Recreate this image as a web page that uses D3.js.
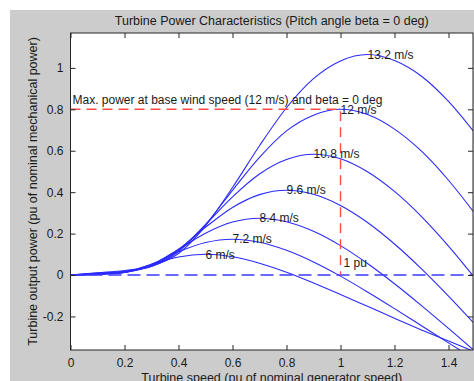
<!DOCTYPE html>
<html>
<head>
<meta charset="utf-8">
<script src="https://cdn.jsdelivr.net/npm/d3@7"></script>
<style>
  html, body { margin: 0; padding: 0; background: #ffffff; }
  svg { display: block; }
  text { font-family: "Liberation Sans", Arial, sans-serif; fill: #1a1a1a; }
</style>
</head>
<body>
<script>
// ---- data ----
const speeds = [0, 0.1, 0.2, 0.3, 0.4, 0.5, 0.6, 0.7, 0.8, 0.9, 1.0, 1.1, 1.2, 1.3, 1.4, 1.5];
const windLabels = ["6 m/s", "7.2 m/s", "8.4 m/s", "9.6 m/s", "10.8 m/s", "12 m/s", "13.2 m/s"];
const p6   = [0, 0.0023, 0.0142, 0.0511, 0.0870, 0.1000, 0.0881, 0.0572, 0.0135, -0.0383, -0.0939, -0.1513, -0.2086, -0.2649, -0.3190, -0.3718];
const p72  = [0, 0.0033, 0.0128, 0.0526, 0.1119, 0.1567, 0.1728, 0.1584, 0.1196, 0.0632, -0.0053, -0.0818, -0.1623, -0.2449, -0.3276, -0.4093];
const p84  = [0, 0.0045, 0.0126, 0.0492, 0.1238, 0.2018, 0.2558, 0.2744, 0.2570, 0.2109, 0.1418, 0.0555, -0.0422, -0.1477, -0.2578, -0.3701];
const p96  = [0, 0.0059, 0.0130, 0.0447, 0.1247, 0.2307, 0.3261, 0.3881, 0.4096, 0.3896, 0.3356, 0.2535, 0.1498, 0.0299, -0.1018, -0.2409];
const p108 = [0, 0.0074, 0.0158, 0.0431, 0.1198, 0.2434, 0.3775, 0.4881, 0.5581, 0.5832, 0.5616, 0.4988, 0.4035, 0.2822, 0.1400, -0.0179];
const p120 = [0, 0.0092, 0.0185, 0.0410, 0.1135, 0.2435, 0.4090, 0.5678, 0.6957, 0.7717, 0.8000, 0.7747, 0.7045, 0.5979, 0.4575, 0.2927];
const p132 = [0, 0.0111, 0.0222, 0.0437, 0.1040, 0.2376, 0.4224, 0.6242, 0.8077, 0.9479, 1.0337, 1.0648, 1.0357, 0.9597, 0.8381, 0.6819];
const seriesValues = [p6, p72, p84, p96, p108, p120, p132];
const basePower = 0.8;   // max power at base wind speed
const baseSpeed = 1.0;   // 1 pu
const xTicks = [0, 0.2, 0.4, 0.6, 0.8, 1.0, 1.2, 1.4];
const xTickLabels = ["0", "0.2", "0.4", "0.6", "0.8", "1", "1.2", "1.4"];
const yTicks = [-0.2, 0, 0.2, 0.4, 0.6, 0.8, 1.0];
const yTickLabels = ["-0.2", "0", "0.2", "0.4", "0.6", "0.8", "1"];
const titleText = "Turbine Power Characteristics (Pitch angle beta = 0 deg)";
const xTitle = "Turbine speed (pu of nominal generator speed)";
const yTitle = "Turbine output power (pu of nominal mechanical power)";
const maxText = "Max. power at base wind speed (12 m/s) and beta = 0 deg";
const puText = "1 pu";

// ---- layout ----
const W = 474, H = 381;
const plotL = 70.5, plotR = 473, plotT = 33, plotB = 350;

const svg = d3.select("body").append("svg").attr("width", W).attr("height", H);

// figure background
svg.append("rect").attr("x", 10).attr("y", 10).attr("width", W - 10).attr("height", H - 10).attr("fill", "#cccccc");
svg.append("rect").attr("x", plotL).attr("y", plotT).attr("width", plotR - plotL).attr("height", plotB - plotT).attr("fill", "#ffffff");

const xS = d3.scaleLinear().domain([0, 1.5]).range([plotL, plotL + 1.5 * 270]);
const yS = d3.scaleLinear().domain([-0.362, 1.1685]).range([plotB, plotT]);

svg.append("clipPath").attr("id", "clip").append("rect")
  .attr("x", plotL).attr("y", plotT).attr("width", plotR - plotL).attr("height", plotB - plotT);

const g = svg.append("g").attr("clip-path", "url(#clip)");

const line = d3.line().x((d, i) => xS(speeds[i])).y(d => yS(d)).curve(d3.curveMonotoneX);

seriesValues.forEach(vals => {
  g.append("path").attr("d", line(vals)).attr("fill", "none")
    .attr("stroke", "#2a2aff").attr("stroke-width", 1.1);
});

// blue dashed zero line
g.append("line").attr("x1", xS(0)).attr("x2", xS(1.5)).attr("y1", yS(0)).attr("y2", yS(0))
  .attr("stroke", "#3a3aff").attr("stroke-width", 1.3).attr("stroke-dasharray", "13,6");

// red dashed max-power lines
g.append("path")
  .attr("d", d3.line()([[xS(0), yS(basePower)], [xS(baseSpeed), yS(basePower)], [xS(baseSpeed), yS(0)]]))
  .attr("fill", "none").attr("stroke", "#ff4d4d").attr("stroke-width", 1.4).attr("stroke-dasharray", "10,6");

// curve labels at each curve's peak
seriesValues.forEach((vals, k) => {
  const m = d3.maxIndex(vals);
  svg.append("text").attr("x", xS(speeds[m])).attr("y", yS(vals[m])).attr("dy", "0.35em")
    .attr("font-size", 12).text(windLabels[k]);
});

svg.append("text").attr("x", xS(0) + 2).attr("y", yS(basePower) - 5).attr("font-size", 12).text(maxText);
svg.append("text").attr("x", xS(baseSpeed) + 3).attr("y", yS(0) - 8).attr("font-size", 12).text(puText);

// axes box
const axCol = "#262626";
svg.append("rect").attr("x", plotL).attr("y", plotT).attr("width", plotR - plotL).attr("height", plotB - plotT)
  .attr("fill", "none").attr("stroke", axCol).attr("stroke-width", 1);

const tl = 5;
const axB = d3.axisBottom(xS).tickValues(xTicks).tickFormat((d, i) => xTickLabels[i]).tickSizeInner(-tl).tickSizeOuter(0).tickPadding(8);
const axT = d3.axisTop(xS).tickValues(xTicks).tickFormat("").tickSizeInner(-tl).tickSizeOuter(0);
const axL = d3.axisLeft(yS).tickValues(yTicks).tickFormat((d, i) => yTickLabels[i]).tickSizeInner(-tl).tickSizeOuter(0).tickPadding(7);
const axR = d3.axisRight(yS).tickValues(yTicks).tickFormat("").tickSizeInner(-tl).tickSizeOuter(0);

function styleAxis(sel) {
  sel.select(".domain").remove();
  sel.selectAll(".tick line").attr("stroke", axCol);
  sel.selectAll(".tick text").attr("fill", "#1a1a1a").attr("font-size", 12)
    .attr("font-family", "Liberation Sans, Arial, sans-serif");
}
svg.append("g").attr("transform", `translate(0,${plotB})`).call(axB).call(styleAxis);
svg.append("g").attr("transform", `translate(0,${plotT})`).call(axT).call(styleAxis);
svg.append("g").attr("transform", `translate(${plotL},0)`).call(axL).call(styleAxis);
svg.append("g").attr("transform", `translate(${plotR},0)`).call(axR).call(styleAxis);

// titles
svg.append("text").attr("x", (plotL + plotR) / 2).attr("y", 25).attr("text-anchor", "middle")
  .attr("font-size", 12.5).text(titleText);
svg.append("text").attr("x", (plotL + plotR) / 2).attr("y", 381.5).attr("text-anchor", "middle")
  .attr("font-size", 12.5).text(xTitle);
svg.append("text").attr("transform", `translate(36.5,${(plotT + plotB) / 2}) rotate(-90)`)
  .attr("text-anchor", "middle").attr("font-size", 12.5).text(yTitle);
</script>
</body>
</html>
